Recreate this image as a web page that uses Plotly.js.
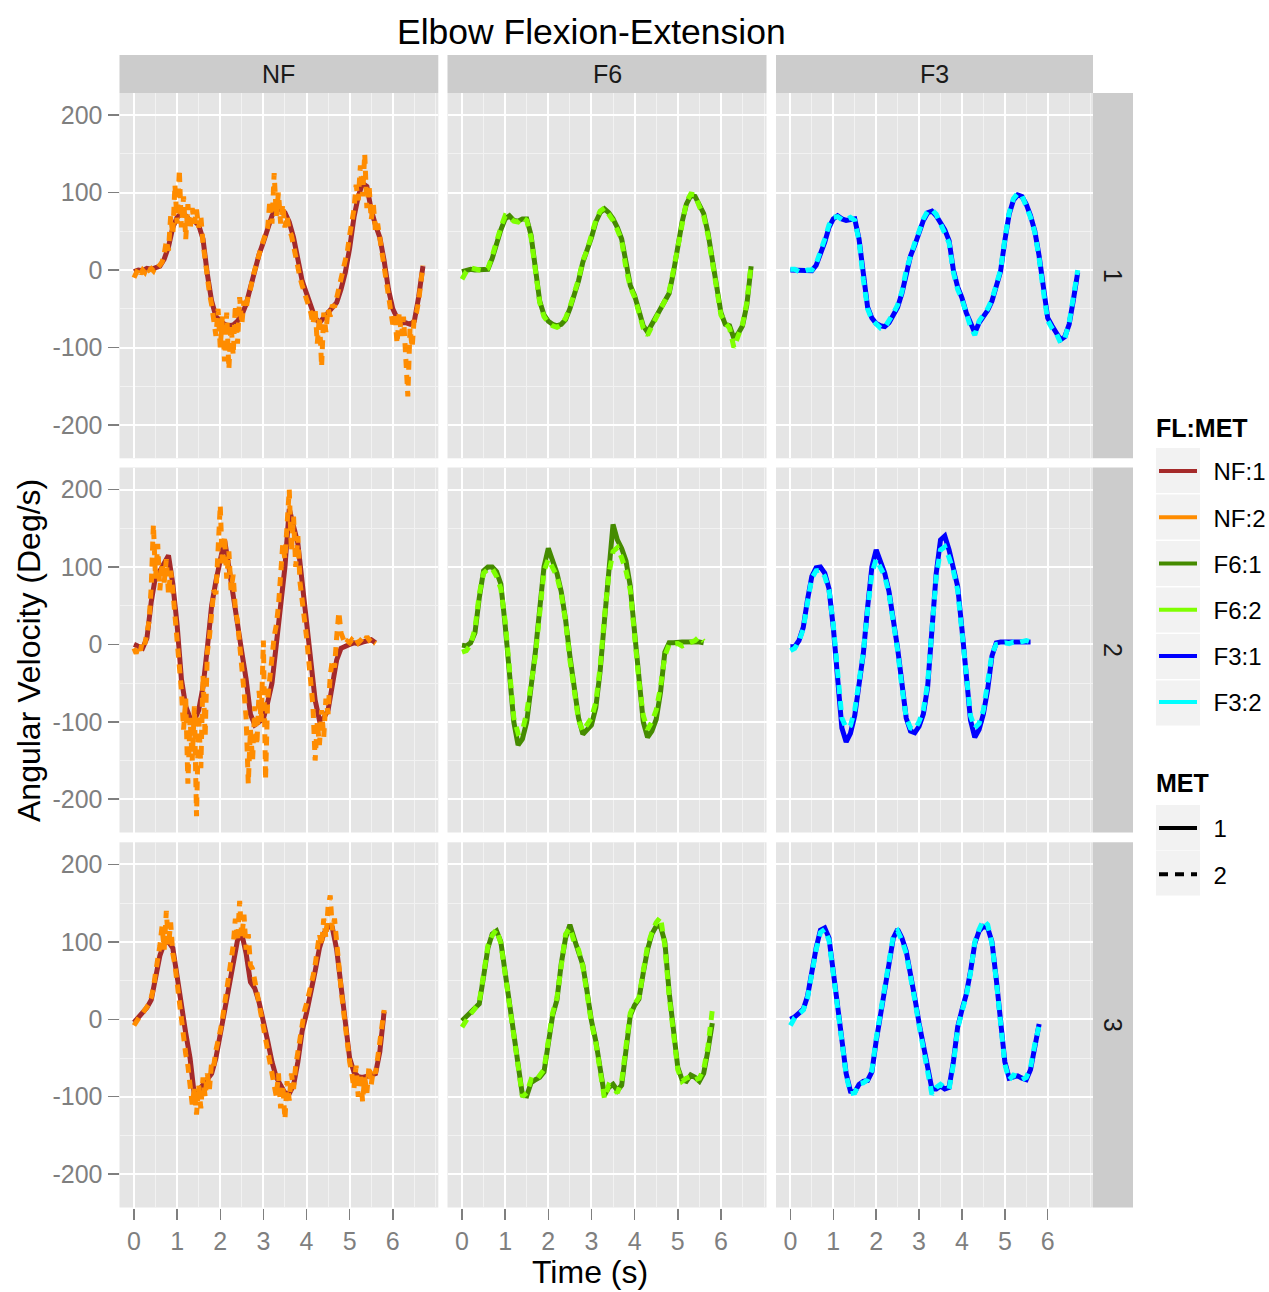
<!DOCTYPE html>
<html>
<head>
<meta charset="utf-8">
<script src="https://cdn.plot.ly/plotly-3.0.1.min.js"></script>
<style>
html,body{margin:0;padding:0;background:#ffffff;}
#chart{width:1269px;height:1292px;}
</style>
</head>
<body>
<div id="chart"></div>
<script>
// ---------------- data ----------------
const FACETS = ['NF', 'F6', 'F3'];
const ROWS = ['1', '2', '3'];
const X_TICKS = [0, 1, 2, 3, 4, 5, 6];
const Y_TICKS = [-200, -100, 0, 100, 200];
const Y_TICK_TEXT = ['-200', '-100', '0', '100', '200'];
const FL_MET_LABELS = ['NF:1', 'NF:2', 'F6:1', 'F6:2', 'F3:1', 'F3:2'];
const MET_LABELS = ['1', '2'];
const T0 = 0;          // first sample time (s)
const STEP = 0.1;      // sampling step of smooth series (s)
const NOISY_STEP = 0.05; // sampling step of the noisy NF:2 series (s)

// Row 1
const NF_R1_M1 = [-2,0,-1,2,1,3,5,14,30,55,68,73,70,64,63,58,40,-5,-40,-60,-66,-70,-72,-71,-66,-58,-44,-22,-2,20,36,52,70,80,78,74,62,42,10,-14,-30,-48,-62,-68,-62,-55,-48,-42,-25,-3,28,68,95,112,108,78,58,42,12,-25,-50,-62,-68,-68,-70,-66,-35,5];
const NF_R1_M2 = [-10,-4,2,-5,0,-3,4,0,2,-1,
  5,3,8,10,20,38,25,70,45,110,
  60,130,55,95,40,85,52,80,60,78,
  55,70,35,10,-10,-30,-45,-62,-85,-50,
  -100,-60,-118,-55,-128,-70,-110,-45,-95,-35,
  -70,-40,-50,-32,-25,-10,0,15,22,30,
  38,48,55,90,60,125,70,100,60,85,
  55,70,50,45,30,15,0,-10,-20,-28,
  -35,-45,-55,-70,-50,-95,-60,-125,-55,-80,
  -50,-60,-45,-48,-35,-28,-15,0,10,25,
  45,60,78,110,90,135,95,150,80,110,
  65,85,50,60,40,25,10,-15,-30,-50,
  -70,-60,-95,-55,-85,-60,-120,-163,-75,-100,
  -60,-55,-40,-15,6];
const F6_R1_M1 = [-2,0,1,0,0,0,1,15,35,52,66,70,64,63,66,66,45,0,-40,-58,-66,-70,-72,-70,-64,-50,-32,-14,10,24,42,62,74,79,74,66,55,40,5,-20,-33,-55,-72,-80,-70,-60,-52,-42,-30,-3,30,62,85,96,95,85,73,48,15,-18,-55,-70,-72,-88,-82,-72,-45,5];
const F6_R1_M2 = [-12,-2,3,1,0,-1,2,18,38,55,70,68,63,62,68,64,42,-2,-42,-60,-68,-72,-74,-71,-62,-48,-30,-12,12,26,45,64,76,80,72,64,52,38,2,-22,-35,-58,-75,-84,-72,-62,-50,-40,-28,0,32,65,88,98,97,82,70,45,12,-20,-58,-68,-75,-100,-85,-70,-42,8];
const F3_R1_M1 = [0,0,-1,-1,-1,-1,6,20,36,55,66,70,66,64,65,66,40,-10,-48,-62,-69,-72,-73,-68,-58,-48,-30,-2,18,32,48,64,74,76,70,62,52,38,0,-22,-36,-55,-70,-81,-68,-60,-52,-40,-22,-2,38,72,90,97,95,85,70,50,18,-25,-62,-72,-80,-90,-86,-70,-38,-3];
const F3_R1_M2 = [1,1,-2,-2,0,0,8,22,40,58,68,69,65,65,68,64,38,-12,-50,-64,-70,-75,-74,-66,-56,-45,-28,0,20,35,50,66,76,78,72,60,50,35,-3,-25,-38,-58,-73,-84,-66,-58,-50,-38,-20,0,40,74,92,99,96,83,68,48,15,-28,-65,-75,-82,-94,-88,-68,-35,0];

// Row 2
const NF_R2_M1 = [0,-3,-5,8,55,88,95,105,115,78,25,-45,-80,-95,-98,-85,-55,-5,50,82,110,135,100,60,25,-10,-45,-90,-104,-100,-96,-75,-50,0,55,100,175,150,130,80,30,-20,-72,-98,-95,-85,-50,-20,-5,-2,0,2,1,3,4,6,2];
const NF_R2_M2 = [-5,-12,-2,-8,5,0,15,30,75,155,
  85,130,70,105,80,110,65,95,70,40,
  10,-30,-60,-110,-70,-180,-95,-150,-80,-222,
  -90,-160,-40,-120,-10,10,40,70,65,130,
  180,100,140,85,120,70,90,45,30,0,
  -25,-60,-95,-180,-110,-150,-80,-130,-60,-100,
  5,-175,-70,-40,-20,10,25,50,90,130,
  110,160,200,120,165,100,140,80,60,30,
  10,-20,-50,-80,-150,-100,-130,-85,-120,-70,
  -90,-40,-20,-30,10,42,15,5,0,4,
  2,6,3,7,2,5,8,4,10,6,
  9,3,1];
const F6_R2_M1 = [-1,-2,2,15,60,95,100,100,94,78,25,-40,-100,-130,-122,-100,-60,-10,45,100,124,110,92,68,32,-15,-60,-95,-116,-110,-104,-82,-35,30,95,155,135,124,108,75,15,-42,-100,-120,-112,-97,-62,-10,2,2,3,3,3,3,4,3,2];
const F6_R2_M2 = [-10,-8,0,20,65,92,97,98,88,72,30,-35,-95,-115,-112,-88,-55,-15,40,95,110,98,88,65,30,-20,-65,-98,-112,-102,-95,-75,-30,35,90,120,125,112,95,70,10,-48,-92,-110,-100,-85,-55,-15,0,0,1,-2,0,2,5,10,4];
const F3_R2_M1 = [-3,-3,5,22,58,88,99,100,92,72,22,-45,-108,-126,-115,-92,-55,-12,48,100,122,108,92,68,35,-5,-50,-95,-112,-114,-106,-90,-55,15,92,135,140,122,100,75,20,-45,-98,-120,-110,-90,-58,-15,2,3,3,3,3,3,3,3,3];
const F3_R2_M2 = [-8,-5,4,20,55,86,95,96,88,70,25,-40,-95,-108,-105,-85,-50,-10,45,92,110,100,88,65,32,-8,-55,-95,-108,-110,-100,-85,-50,18,88,122,126,112,95,70,18,-45,-92,-108,-102,-85,-52,-12,0,1,2,1,3,2,4,5,3];

// Row 3
const NF_R3_M1 = [-4,2,8,15,25,50,82,98,100,92,55,12,-18,-50,-98,-92,-85,-78,-70,-50,-20,10,40,75,102,110,85,48,40,22,0,-28,-55,-75,-85,-95,-96,-85,-55,-15,8,32,62,92,110,120,118,90,45,0,-50,-68,-74,-75,-74,-72,-70,-42,10];
const NF_R3_M2 = [-8,-3,0,5,8,12,18,20,28,40,
  60,75,95,120,90,140,95,125,85,70,
  45,20,0,-25,-45,-60,-80,-110,-90,-123,
  -85,-115,-75,-100,-70,-90,-55,-60,-40,-30,
  -15,0,20,35,50,70,95,130,100,153,
  105,135,90,110,70,65,45,35,20,5,
  -10,-25,-40,-55,-65,-80,-100,-70,-115,-85,
  -129,-80,-105,-70,-90,-60,-40,-20,-5,10,
  20,30,40,55,70,90,110,95,130,105,
  145,160,115,130,95,70,40,15,-10,-35,
  -55,-70,-90,-60,-100,-70,-106,-75,-95,-60,
  -85,-65,-70,-50,-30,-5,12];
const F6_R3_M1 = [-2,3,8,13,20,55,92,110,114,100,62,22,-12,-60,-98,-99,-82,-78,-75,-68,-30,5,25,72,105,122,104,88,70,35,-2,-28,-65,-98,-88,-84,-92,-85,-40,5,18,26,60,90,110,120,120,100,35,-15,-62,-78,-80,-72,-75,-80,-70,-40,-5];
const F6_R3_M2 = [-10,0,7,14,22,58,95,108,116,98,60,20,-15,-62,-100,-95,-78,-80,-72,-65,-28,8,28,75,110,118,100,90,68,32,-5,-30,-70,-102,-85,-88,-95,-80,-35,8,20,28,62,95,112,125,132,95,30,-20,-65,-80,-76,-74,-78,-76,-65,-35,12];
const F3_R3_M1 = [0,3,8,13,30,62,92,115,118,105,62,20,-28,-70,-93,-94,-84,-80,-79,-68,-28,5,35,72,105,116,105,88,60,28,-5,-32,-63,-90,-90,-86,-90,-88,-55,-10,12,32,62,98,114,120,118,100,52,-5,-55,-76,-74,-73,-76,-78,-65,-35,-6];
const F3_R3_M2 = [-8,2,7,12,28,60,90,112,116,102,60,18,-30,-72,-96,-95,-83,-82,-78,-66,-25,8,38,75,108,114,102,85,58,25,-8,-35,-65,-97,-88,-84,-88,-90,-58,-12,10,30,60,100,116,128,122,98,50,-8,-58,-78,-72,-74,-78,-75,-62,-32,-8];

// ---------------- assembly ----------------
const SERIES = {
  NF: [[NF_R1_M1, NF_R1_M2], [NF_R2_M1, NF_R2_M2], [NF_R3_M1, NF_R3_M2]],
  F6: [[F6_R1_M1, F6_R1_M2], [F6_R2_M1, F6_R2_M2], [F6_R3_M1, F6_R3_M2]],
  F3: [[F3_R1_M1, F3_R1_M2], [F3_R2_M1, F3_R2_M2], [F3_R3_M1, F3_R3_M2]]
};
const STEPS = { NF: [STEP, NOISY_STEP], F6: [STEP, STEP], F3: [STEP, STEP] };
const COLORS = { NF: ['#a52a2a', '#ff8c00'], F6: ['#458b00', '#7fff00'], F3: ['#0000ff', '#00ffff'] };
const DASHES = ['solid', '9px,7px'];

const W = 1269, H = 1292;
const FONT = 'Liberation Sans, Arial, Helvetica, sans-serif';
const COL_PX = [[119.5, 438.3], [447.5, 766.5], [776, 1093]];
const ROW_PX = [[93, 458.3], [467.5, 832.5], [842.3, 1207.5]];
const X_RANGE = [-0.336, 7.056];
const Y_RANGE = [-243, 228.5];
const px = v => v / W;
const py = v => 1 - v / H;
const LEGEND_PAD = '\u00a0\u2009'; // small gap between legend key and label

const traces = [];
const layout = {
  width: W, height: H,
  margin: { l: 0, r: 0, t: 0, b: 0, autoexpand: false },
  paper_bgcolor: '#ffffff',
  plot_bgcolor: '#e5e5e5',
  hovermode: false,
  font: { family: FONT, color: '#000000' },
  shapes: [],
  annotations: []
};

for (let r = 0; r < 3; r++) {
  for (let c = 0; c < 3; c++) {
    const p = r * 3 + c + 1;
    const sfx = p === 1 ? '' : String(p);
    const fac = FACETS[c];
    for (let m = 0; m < 2; m++) {
      traces.push({
        type: 'scatter', mode: 'lines',
        x0: T0, dx: STEPS[fac][m],
        y: SERIES[fac][r][m],
        xaxis: 'x' + sfx, yaxis: 'y' + sfx,
        line: { color: COLORS[fac][m], width: 5, dash: DASHES[m] },
        showlegend: false, hoverinfo: 'skip'
      });
    }
    const bottom = r === 2, left = c === 0;
    layout['xaxis' + sfx] = {
      domain: [px(COL_PX[c][0]), px(COL_PX[c][1])],
      anchor: 'y' + sfx,
      range: X_RANGE,
      tickmode: 'array', tickvals: X_TICKS,
      showgrid: true, gridcolor: '#ffffff', gridwidth: 2,
      minor: { tickmode: 'linear', tick0: 0, dtick: 0.5, showgrid: true, gridcolor: '#f2f2f2', gridwidth: 1, ticks: '' },
      zeroline: false, showline: false,
      ticks: bottom ? 'outside' : '', ticklen: 11, tickwidth: 1.5, tickcolor: '#7f7f7f',
      showticklabels: bottom,
      tickfont: { family: FONT, size: 25, color: '#7f7f7f' },
      automargin: false, fixedrange: true
    };
    layout['yaxis' + sfx] = {
      domain: [py(ROW_PX[r][1]), py(ROW_PX[r][0])],
      anchor: 'x' + sfx,
      range: Y_RANGE,
      tickmode: 'array', tickvals: Y_TICKS, ticktext: Y_TICK_TEXT,
      showgrid: true, gridcolor: '#ffffff', gridwidth: 2,
      minor: { tickmode: 'linear', tick0: 0, dtick: 50, showgrid: true, gridcolor: '#f2f2f2', gridwidth: 1, ticks: '' },
      zeroline: false, showline: false,
      ticks: left ? 'outside' : '', ticklen: 11, tickwidth: 1.5, tickcolor: '#7f7f7f',
      showticklabels: left,
      tickfont: { family: FONT, size: 25, color: '#7f7f7f' },
      automargin: false, fixedrange: true
    };
  }
}

// legend traces (FL:MET colours, MET linetypes)
FL_MET_LABELS.forEach((lab, i) => {
  const fac = FACETS[Math.floor(i / 2)];
  traces.push({
    type: 'scatter', mode: 'lines', x: [null], y: [null],
    xaxis: 'x', yaxis: 'y', name: LEGEND_PAD + lab, legend: 'legend', legendgroup: 'fl' + i,
    line: { color: COLORS[fac][i % 2], width: 4 }, showlegend: true, hoverinfo: 'skip'
  });
});
MET_LABELS.forEach((lab, i) => {
  traces.push({
    type: 'scatter', mode: 'lines', x: [null], y: [null],
    xaxis: 'x', yaxis: 'y', name: LEGEND_PAD + lab, legend: 'legend2', legendgroup: 'met' + i,
    line: { color: '#000000', width: 4, dash: DASHES[i] }, showlegend: true, hoverinfo: 'skip'
  });
});

const LEGEND_COMMON = {
  xanchor: 'left', yanchor: 'top',
  bgcolor: 'rgba(0,0,0,0)', borderwidth: 0,
  font: { family: FONT, size: 24, color: '#000000' },
  traceorder: 'grouped', tracegroupgap: 12, itemwidth: 38, itemclick: false, itemdoubleclick: false
};
layout.legend = Object.assign({ x: px(1154), y: py(449) }, LEGEND_COMMON);
layout.legend2 = Object.assign({ x: px(1154), y: py(806) }, LEGEND_COMMON);

// strips
const STRIP_TOP = [55, 93], STRIP_RIGHT = [1093, 1133];
for (let c = 0; c < 3; c++) {
  layout.shapes.push({ type: 'rect', xref: 'paper', yref: 'paper', layer: 'below',
    x0: px(COL_PX[c][0]), x1: px(COL_PX[c][1]), y0: py(STRIP_TOP[1]), y1: py(STRIP_TOP[0]),
    fillcolor: '#cccccc', line: { width: 0 } });
  layout.annotations.push({ xref: 'paper', yref: 'paper', showarrow: false,
    x: px((COL_PX[c][0] + COL_PX[c][1]) / 2), y: py((STRIP_TOP[0] + STRIP_TOP[1]) / 2),
    xanchor: 'center', yanchor: 'middle', text: FACETS[c],
    font: { family: FONT, size: 25, color: '#1a1a1a' } });
}
for (let r = 0; r < 3; r++) {
  layout.shapes.push({ type: 'rect', xref: 'paper', yref: 'paper', layer: 'below',
    x0: px(STRIP_RIGHT[0]), x1: px(STRIP_RIGHT[1]), y0: py(ROW_PX[r][1]), y1: py(ROW_PX[r][0]),
    fillcolor: '#cccccc', line: { width: 0 } });
  layout.annotations.push({ xref: 'paper', yref: 'paper', showarrow: false,
    x: px((STRIP_RIGHT[0] + STRIP_RIGHT[1]) / 2), y: py((ROW_PX[r][0] + ROW_PX[r][1]) / 2),
    xanchor: 'center', yanchor: 'middle', text: ROWS[r], textangle: 90,
    font: { family: FONT, size: 25, color: '#1a1a1a' } });
}

// legend key backgrounds and legend titles
const KEY_X = [1156, 1200];
const KEY_TOPS_1 = [448, 494.5, 541, 587.5, 634, 680.5];
const KEY_TOPS_2 = [805, 850.5];
const KEY_H = 45;
KEY_TOPS_1.concat(KEY_TOPS_2).forEach(t => {
  layout.shapes.push({ type: 'rect', xref: 'paper', yref: 'paper', layer: 'below',
    x0: px(KEY_X[0]), x1: px(KEY_X[1]), y0: py(t + KEY_H), y1: py(t),
    fillcolor: '#f2f2f2', line: { width: 0 } });
});
layout.annotations.push({ xref: 'paper', yref: 'paper', showarrow: false,
  x: px(1154), y: py(428), xanchor: 'left', yanchor: 'middle',
  text: '<b>FL:MET</b>', font: { family: FONT, size: 25, color: '#000000' } });
layout.annotations.push({ xref: 'paper', yref: 'paper', showarrow: false,
  x: px(1154), y: py(783), xanchor: 'left', yanchor: 'middle',
  text: '<b>MET</b>', font: { family: FONT, size: 25, color: '#000000' } });

// titles
layout.annotations.push({ xref: 'paper', yref: 'paper', showarrow: false,
  x: px(591), y: py(32), xanchor: 'center', yanchor: 'middle',
  text: 'Elbow Flexion-Extension', font: { family: FONT, size: 35.5, color: '#000000' } });
layout.annotations.push({ xref: 'paper', yref: 'paper', showarrow: false,
  x: px(590), y: py(1272), xanchor: 'center', yanchor: 'middle',
  text: 'Time (s)', font: { family: FONT, size: 32, color: '#000000' } });
layout.annotations.push({ xref: 'paper', yref: 'paper', showarrow: false,
  x: px(29), y: py(651), xanchor: 'center', yanchor: 'middle', textangle: -90,
  text: 'Angular Velocity (Deg/s)', font: { family: FONT, size: 32, color: '#000000' } });

Plotly.newPlot('chart', traces, layout, { staticPlot: true, displayModeBar: false });
</script>
</body>
</html>
